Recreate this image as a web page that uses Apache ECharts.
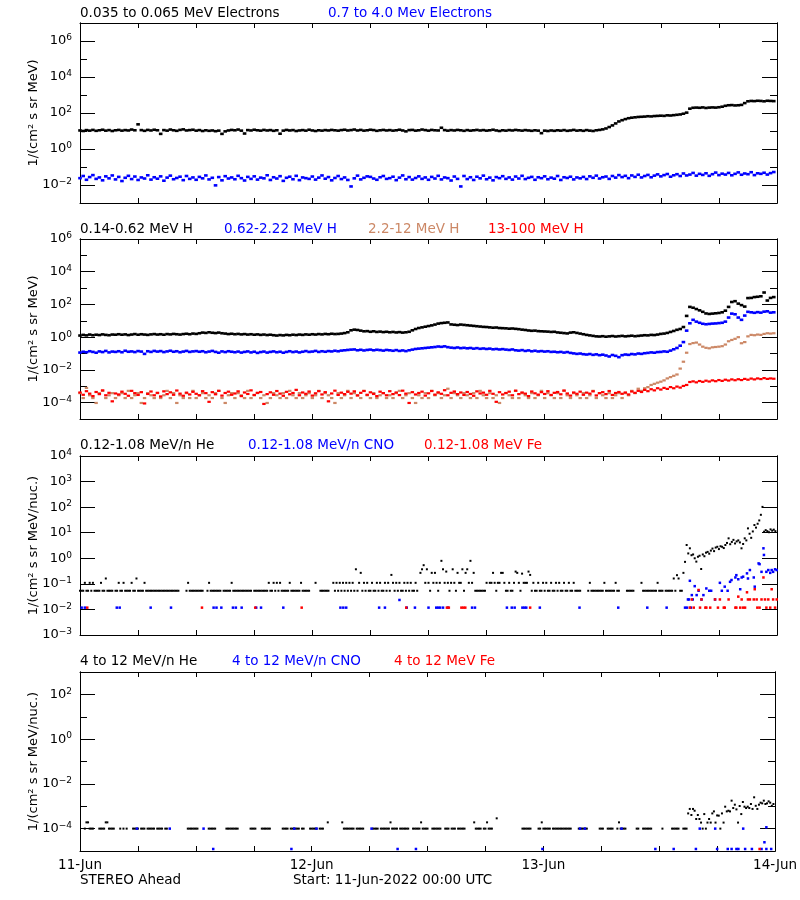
<!DOCTYPE html>
<html><head><meta charset="utf-8">
<script src="https://cdn.jsdelivr.net/npm/echarts@6/dist/echarts.min.js"></script>
<style>html,body{margin:0;padding:0;background:#fff}#c{width:800px;height:900px}</style>
</head><body><div id="c"></div>
<script>
const _ = null;
// Time axis: hours since 11-Jun-2022 00:00 UTC
const dayLabels = ['11-Jun', '12-Jun', '13-Jun', '14-Jun'];

// ---- Panel 1: electrons, log10 flux, 20-min cadence ----
const eLowLog = [
1.03,1.00,1.05,1.02,1.06,1.01,1.04,1.07,1.02,1.05,1.00,1.04,
1.06,1.02,1.05,1.03,1.08,1.04,1.37,1.05,1.01,1.06,1.03,1.07,
1.04,0.84,1.05,1.02,1.08,1.04,1.01,1.06,1.09,1.03,1.05,1.07,
1.02,1.05,1.00,1.04,1.01,1.03,0.99,1.02,0.84,0.98,1.03,1.06,
1.04,1.08,1.02,0.86,1.05,1.03,1.07,1.04,1.02,1.06,1.03,1.05,
1.01,1.04,0.85,1.02,1.06,1.03,1.05,1.00,1.03,1.05,1.02,1.07,
1.03,1.00,1.04,1.02,1.05,1.03,1.06,1.04,1.02,1.05,1.07,1.03,
1.05,1.08,1.03,1.06,1.02,1.04,1.07,1.05,1.01,1.04,1.06,1.03,
1.05,1.02,1.04,1.07,1.03,0.98,1.05,1.06,1.02,1.04,1.08,1.05,
1.02,1.06,1.04,1.03,1.18,1.05,1.02,1.05,1.03,1.06,1.04,1.01,
1.05,1.02,1.04,1.06,1.03,1.05,1.02,1.04,1.07,1.03,1.00,1.04,
1.02,1.05,1.03,1.06,1.04,1.02,1.05,1.03,1.01,1.04,1.02,0.88,
1.02,1.00,1.03,1.01,1.04,1.02,1.05,1.01,1.03,1.06,1.02,1.04,
1.01,1.05,1.02,1.00,1.04,1.06,1.09,1.14,1.22,1.31,1.42,1.53,
1.60,1.66,1.71,1.74,1.76,1.78,1.79,1.80,1.82,1.81,1.83,1.84,
1.85,1.84,1.87,1.86,1.88,1.90,1.92,1.96,2.02,2.24,2.29,2.30,
2.29,2.31,2.28,2.30,2.31,2.30,2.32,2.35,2.40,2.43,2.44,2.42,
2.43,2.45,2.55,2.65,2.67,2.66,2.68,2.67,2.65,2.68,2.67,2.66];
const eHighLog = [
-1.62,-1.50,-1.71,-1.56,-1.45,-1.66,-1.58,-1.74,-1.52,-1.63,-1.47,-1.69,
-1.55,-1.78,-1.60,-1.49,-1.67,-1.53,-1.72,-1.58,-1.64,-1.46,-1.70,-1.57,
-1.65,-1.52,-1.76,-1.59,-1.48,-1.68,-1.61,-1.54,-1.73,-1.50,-1.66,-1.58,
-1.71,-1.55,-1.63,-1.47,-1.69,-1.60,-2.02,-1.56,-1.74,-1.51,-1.64,-1.58,
-1.68,-1.49,-1.62,-1.75,-1.55,-1.66,-1.52,-1.70,-1.59,-1.63,-1.46,-1.72,
-1.57,-1.64,-1.51,-1.77,-1.60,-1.54,-1.68,-1.49,-1.73,-1.58,-1.62,-1.66,
-1.53,-1.70,-1.59,-1.47,-1.65,-1.56,-1.74,-1.61,-1.50,-1.67,-1.58,-1.72,
-2.08,-1.63,-1.48,-1.69,-1.60,-1.52,-1.55,-1.64,-1.71,-1.57,-1.50,-1.66,
-1.62,-1.54,-1.73,-1.59,-1.47,-1.68,-1.56,-1.70,-1.61,-1.52,-1.66,-1.58,
-1.71,-1.55,-1.64,-1.49,-1.69,-1.58,-1.62,-1.75,-1.53,-1.66,-2.08,-1.50,
-1.67,-1.57,-1.72,-1.54,-1.63,-1.48,-1.68,-1.59,-1.74,-1.56,-1.62,-1.51,
-1.66,-1.58,-1.70,-1.53,-1.64,-1.49,-1.67,-1.60,-1.55,-1.71,-1.57,-1.62,
-1.52,-1.68,-1.59,-1.65,-1.50,-1.72,-1.57,-1.61,-1.54,-1.69,-1.58,-1.63,
-1.55,-1.67,-1.52,-1.60,-1.48,-1.64,-1.57,-1.53,-1.66,-1.50,-1.59,-1.45,
-1.56,-1.49,-1.62,-1.47,-1.55,-1.43,-1.58,-1.50,-1.44,-1.57,-1.48,-1.41,
-1.52,-1.45,-1.39,-1.54,-1.46,-1.40,-1.50,-1.36,-1.47,-1.42,-1.33,-1.48,
-1.38,-1.44,-1.35,-1.49,-1.40,-1.31,-1.45,-1.37,-1.42,-1.33,-1.46,-1.38,
-1.30,-1.43,-1.36,-1.40,-1.29,-1.45,-1.35,-1.38,-1.32,-1.42,-1.34,-1.28];

// ---- Panel 2: protons, log10 flux, 20-min cadence ----
const hLowLog = [
0.10,0.14,0.11,0.16,0.12,0.15,0.13,0.17,0.14,0.12,0.16,0.15,
0.18,0.15,0.17,0.13,0.16,0.19,0.15,0.18,0.16,0.14,0.17,0.19,
0.16,0.18,0.15,0.19,0.17,0.20,0.18,0.16,0.19,0.21,0.18,0.22,
0.20,0.24,0.28,0.26,0.30,0.27,0.25,0.28,0.24,0.22,0.19,0.21,
0.18,0.20,0.17,0.19,0.16,0.18,0.15,0.17,0.14,0.16,0.13,0.15,
0.12,0.10,0.13,0.11,0.14,0.12,0.15,0.13,0.16,0.14,0.17,0.15,
0.18,0.16,0.19,0.17,0.20,0.18,0.21,0.19,0.20,0.22,0.25,0.30,
0.42,0.46,0.44,0.40,0.36,0.37,0.33,0.36,0.32,0.34,0.31,0.33,
0.30,0.32,0.29,0.31,0.28,0.30,0.33,0.42,0.50,0.56,0.60,0.64,
0.68,0.72,0.77,0.83,0.86,0.88,0.90,0.78,0.76,0.74,0.77,0.75,
0.73,0.71,0.69,0.67,0.65,0.63,0.62,0.60,0.58,0.59,0.56,0.55,
0.54,0.52,0.53,0.51,0.49,0.46,0.44,0.41,0.39,0.40,0.37,0.36,
0.35,0.34,0.32,0.33,0.29,0.27,0.25,0.23,0.28,0.30,0.26,0.22,
0.18,0.14,0.11,0.08,0.05,0.04,0.06,0.03,0.05,0.07,0.04,0.06,
0.08,0.05,0.07,0.09,0.06,0.08,0.10,0.12,0.11,0.14,0.13,0.16,
0.20,0.22,0.26,0.32,0.38,0.45,0.50,0.62,1.30,1.85,1.80,1.72,
1.64,1.55,1.45,1.42,1.44,1.46,1.48,1.52,1.62,1.85,2.15,2.20,
2.05,1.96,1.87,2.39,2.40,2.45,2.47,2.50,2.73,2.24,2.40,2.45];
const hMidLog = [
-0.94,-0.89,-0.92,-0.86,-0.90,-0.95,-0.87,-0.91,-0.84,-0.93,-0.88,-0.90,
-0.86,-0.92,-0.83,-0.89,-0.87,-0.91,-0.85,-0.88,-1.02,-0.86,-0.90,-0.84,
-0.88,-0.85,-0.91,-0.87,-0.83,-0.89,-0.86,-0.92,-0.88,-0.84,-0.90,-0.87,
-0.85,-0.89,-0.86,-0.92,-0.88,-0.84,-0.90,-0.95,-0.87,-0.91,-0.86,-0.89,
-0.92,-0.88,-0.94,-0.90,-0.87,-0.93,-0.89,-0.96,-0.91,-0.88,-0.94,-0.90,
-0.87,-0.92,-0.89,-0.95,-0.90,-0.86,-0.91,-0.88,-0.93,-0.89,-0.85,-0.90,
-0.88,-0.84,-0.90,-0.86,-0.89,-0.85,-0.87,-0.83,-0.86,-0.82,-0.80,-0.78,
-0.76,-0.75,-0.80,-0.77,-0.81,-0.78,-0.76,-0.80,-0.77,-0.79,-0.82,-0.78,
-0.80,-0.83,-0.79,-0.84,-0.81,-0.85,-0.80,-0.76,-0.72,-0.70,-0.68,-0.66,
-0.64,-0.62,-0.60,-0.57,-0.59,-0.56,-0.61,-0.64,-0.66,-0.63,-0.67,-0.65,
-0.68,-0.66,-0.70,-0.67,-0.71,-0.69,-0.72,-0.70,-0.74,-0.72,-0.75,-0.73,
-0.76,-0.78,-0.75,-0.80,-0.82,-0.79,-0.84,-0.81,-0.86,-0.83,-0.87,-0.85,
-0.88,-0.86,-0.90,-0.89,-0.92,-0.90,-0.94,-0.91,-0.96,-0.99,-1.02,-1.00,
-1.04,-1.06,-1.03,-1.08,-1.05,-1.10,-1.07,-1.12,-1.18,-1.09,-1.14,-1.22,
-1.10,-1.06,-1.08,-1.03,-1.05,-1.00,-1.02,-0.98,-0.96,-0.93,-0.95,-0.91,
-0.90,-0.87,-0.89,-0.82,-0.74,-0.66,-0.52,-0.30,0.40,0.85,1.06,0.95,
0.88,0.82,0.79,0.81,0.83,0.84,0.86,0.88,0.95,1.20,1.44,1.40,
1.20,1.06,1.32,1.55,1.52,1.49,1.53,1.50,1.56,1.58,1.50,1.52];
const hHighLog = [
-3.42,-3.72,-3.10,-3.55,-3.72,-4.02,-3.42,-3.28,-3.72,-3.55,-3.42,-3.72,
-3.55,-3.42,-3.72,-3.28,-3.72,-3.55,-3.42,-4.02,-3.72,-3.42,-3.55,-3.72,
-3.42,-3.72,-3.55,-3.28,-3.72,-3.42,-4.02,-3.55,-3.72,-3.42,-3.72,-3.28,
-3.72,-3.55,-3.42,-3.72,-3.55,-3.72,-3.42,-3.28,-3.72,-4.02,-3.55,-3.42,
-3.72,-3.42,-3.55,-3.72,-3.28,-3.72,-3.55,-3.42,-3.72,-3.55,-4.02,-3.72,
-3.42,-3.55,-3.72,-3.42,-3.72,-3.28,-3.55,-3.72,-3.42,-3.72,-3.55,-3.42,
-3.72,-3.55,-3.28,-3.72,-3.42,-3.55,-3.72,-4.02,-3.42,-3.72,-3.55,-3.28,
-3.72,-3.42,-3.55,-3.72,-3.28,-3.55,-3.72,-3.42,-3.72,-3.55,-3.42,-3.72,
-3.55,-3.72,-3.42,-3.28,-3.72,-3.55,-3.42,-3.72,-4.02,-3.55,-3.72,-3.42,
-3.72,-3.28,-3.55,-3.42,-3.72,-3.55,-3.15,-3.72,-3.42,-3.55,-3.72,-3.42,
-3.55,-3.72,-3.42,-3.72,-3.28,-3.55,-3.72,-3.42,-3.72,-3.55,-4.02,-3.72,
-3.42,-3.55,-3.72,-3.28,-3.72,-3.42,-3.55,-3.72,-3.42,-3.72,-3.55,-3.28,
-3.72,-3.42,-3.55,-3.72,-3.42,-3.72,-3.28,-3.55,-3.72,-3.42,-3.55,-3.72,
-3.42,-3.72,-3.55,-3.28,-3.72,-3.42,-3.55,-3.72,-3.42,-3.72,-3.55,-3.42,
-3.72,-3.42,-3.55,-3.28,-3.42,-3.15,-3.28,-3.12,-3.05,-2.92,-2.85,-2.78,
-2.72,-2.64,-2.52,-2.44,-2.36,-2.28,-1.92,-1.50,-0.95,-0.42,-0.36,-0.33,
-0.45,-0.58,-0.65,-0.68,-0.62,-0.60,-0.58,-0.55,-0.45,-0.25,-0.17,-0.10,
0.00,-0.37,-0.30,0.05,0.14,0.12,0.16,0.14,0.20,0.24,0.22,0.24];
const hTopLog = [
-3.38,-3.52,-3.30,-3.45,-3.60,-3.35,-3.48,-3.25,-3.55,-3.40,-3.92,-3.44,
-3.50,-3.33,-3.46,-3.58,-3.28,-3.42,-3.53,-3.36,-4.05,-3.47,-3.32,-3.55,
-3.40,-3.62,-3.31,-3.48,-3.37,-3.52,-3.26,-3.45,-3.58,-3.39,-3.50,-3.34,
-3.46,-3.55,-3.30,-3.42,-3.95,-3.36,-3.49,-3.28,-3.57,-3.41,-3.33,-3.52,
-3.44,-3.31,-3.60,-3.38,-3.47,-3.25,-3.53,-3.40,-3.35,-4.08,-3.48,-3.37,
-3.52,-3.29,-3.45,-3.58,-3.34,-3.49,-3.41,-3.22,-3.55,-3.38,-3.46,-3.32,
-3.57,-3.43,-3.30,-3.50,-3.36,-3.92,-3.44,-3.27,-3.53,-3.39,-3.48,-3.34,
-3.45,-3.31,-3.56,-3.40,-3.29,-3.52,-3.37,-3.47,-3.60,-3.33,-3.42,-3.55,
-3.30,-3.48,-3.38,-3.54,-3.27,-3.45,-4.02,-3.36,-3.50,-3.41,-3.33,-3.57,
-3.43,-3.29,-3.51,-3.37,-3.46,-3.24,-3.55,-3.40,-3.32,-3.48,-3.38,-3.53,
-3.35,-3.47,-3.58,-3.31,-3.44,-3.39,-3.52,-3.28,-3.46,-3.95,-3.36,-3.50,
-3.41,-3.33,-3.55,-3.27,-3.48,-3.38,-3.45,-3.60,-3.32,-3.43,-3.51,-3.36,
-3.47,-3.30,-3.53,-3.40,-3.35,-3.49,-3.26,-3.44,-3.57,-3.38,-3.46,-3.33,
-3.52,-3.39,-3.45,-3.31,-3.56,-3.42,-3.36,-3.48,-3.29,-3.53,-3.41,-3.35,
-3.46,-3.38,-3.50,-3.32,-3.40,-3.28,-3.35,-3.22,-3.30,-3.18,-3.25,-3.12,
-3.20,-3.10,-3.16,-3.05,-3.12,-3.02,-3.08,-2.98,-2.92,-2.74,-2.70,-2.76,
-2.68,-2.73,-2.66,-2.71,-2.64,-2.69,-2.62,-2.67,-2.60,-2.65,-2.58,-2.63,
-2.57,-2.62,-2.55,-2.60,-2.53,-2.58,-2.52,-2.56,-2.50,-2.55,-2.52,-2.54];

// ---- Panel 3: 0.12-1.08 MeV/n ions, log10 flux ----
// He at 10-min cadence (null = no counts)
const heLowLog = [
-1.27,-1.27,-1.27,-0.96,-1.27,-1.27,-0.96,-1.27,-0.96,-1.27,-1.27,-1.27,-1.27,-0.96,-1.27,-1.27,-0.79,-1.27,-1.27,-1.27,-1.27,_,-1.27,-1.27,
-0.96,-1.27,-1.27,-0.96,-1.27,-1.27,-1.27,-1.27,-0.96,-1.27,-1.27,-0.79,-1.27,-1.27,-1.27,-1.27,-0.96,-1.27,-1.27,-1.27,-1.27,-1.27,-1.27,-1.27,
-1.27,-1.27,-1.27,-1.27,-1.27,-1.27,-1.27,-1.27,-1.27,-1.27,-1.27,-1.27,-1.27,-1.27,_,_,_,_,-1.27,-0.96,-1.27,-1.27,-1.27,-1.27,
-1.27,-1.27,-1.27,-1.27,-1.27,_,_,-1.27,-0.96,-1.27,-1.27,-1.27,-1.27,-1.27,-1.27,-1.27,_,-1.27,-1.27,-1.27,-1.27,-1.27,-0.96,-1.27,
-1.27,-1.27,-1.27,-1.27,-1.27,-1.27,-1.27,-1.27,-1.27,-1.27,-1.27,_,-1.27,-1.27,-1.27,-1.27,-1.27,-1.27,-1.27,-1.27,-1.27,-0.96,-1.27,-1.27,
-0.96,-1.27,-0.96,-1.27,-0.96,-1.27,-1.27,-1.27,-1.27,-1.27,-0.96,-1.27,-1.27,-1.27,-1.27,-1.27,-1.27,-0.96,-1.27,-1.27,-1.27,-1.27,-1.27,_,
_,_,-0.96,_,_,-1.27,-1.27,-1.27,-1.27,-1.27,-1.27,_,_,-0.96,-1.27,-0.96,-1.27,-0.96,-1.27,-0.96,-1.27,-0.96,-1.27,-0.96,
-1.27,-0.96,-1.27,-0.43,-1.27,-0.96,-0.57,-1.27,-0.96,-1.27,-0.96,-1.27,-1.27,-0.96,-1.27,-1.27,-0.96,-1.27,-0.96,-1.27,-1.27,-0.96,-1.27,-0.96,
-1.27,-0.65,-0.96,-1.27,-0.96,-1.27,-0.96,-1.27,-1.27,-0.96,-1.27,-0.96,-1.27,-0.96,-1.27,-1.27,-0.96,-1.27,_,-0.57,-0.43,-0.27,-0.96,-0.43,
-0.96,-1.27,-0.57,-0.96,-0.57,-0.96,-1.27,-0.96,-0.10,-0.43,-0.96,-0.52,-0.96,-1.27,-0.96,-0.43,-0.96,-1.27,-0.57,-0.96,-0.96,-0.43,-1.27,-0.57,
-0.43,-0.96,-0.10,-0.96,-0.57,-1.27,-1.27,-1.27,-1.27,-1.27,-1.27,-1.27,-0.96,_,-0.96,-0.96,-0.57,-0.96,-1.27,-0.96,-0.96,-0.57,-0.57,-0.96,
-1.27,-1.27,-0.96,-1.27,-1.27,-0.96,-0.52,-0.57,-0.96,-1.27,-0.60,-0.96,-0.96,-0.96,-0.52,-0.65,-1.27,-0.96,-1.27,-1.27,-0.96,-1.27,-1.27,-0.96,
-1.27,-0.96,-1.27,-1.27,-0.96,-1.27,-1.27,-0.96,-1.27,-0.96,-1.27,-1.27,-0.96,-1.27,-1.27,-0.96,-1.27,-1.27,-0.96,-1.27,-1.27,-1.27,-1.27,_,
_,_,_,-1.27,-0.96,-1.27,-1.27,-1.27,-1.27,-1.27,-1.27,-1.27,-1.27,-0.96,-1.27,-1.27,-1.27,-1.27,-1.27,-1.27,-0.96,-1.27,-1.27,_,
_,_,_,-1.27,-1.27,-1.27,-1.27,-1.27,_,_,_,_,-0.96,-1.27,-1.27,-1.27,-1.27,-1.27,-1.27,-1.27,-1.27,-1.27,-0.96,-1.27,
-1.27,-1.27,_,-1.27,-1.27,-1.27,-1.27,-1.27,-0.79,-1.27,-0.66,-0.79,-1.27,-1.27,-0.57,-0.14,0.52,0.19,0.39,0.12,0.15,0.00,-0.13,0.06,
0.10,-0.42,0.15,0.08,0.22,0.25,0.18,0.30,0.38,0.28,0.42,0.45,0.36,0.47,0.45,0.40,0.52,0.60,0.78,0.55,0.64,0.72,0.58,0.66,
0.70,0.62,0.39,0.56,0.78,0.70,1.17,0.96,0.80,1.05,1.30,1.20,1.35,1.48,1.70,2.01,1.04,1.10,1.06,1.02,1.13,1.08,1.12,1.06];
// CNO and Fe: [hour, log10 flux]
const cnoLowPts = [
[0.17,-1.93],[0.5,-1.93],[3.8,-1.93],[4.1,-1.93],[7.3,-1.93],[9.4,-1.93],[13.8,-1.93],[14.1,-1.93],[14.6,-1.93],
[15.8,-1.93],[16.1,-1.93],[16.7,-1.93],[18.2,-1.93],[18.7,-1.93],[21.0,-1.93],[26.9,-1.93],[27.2,-1.93],[27.5,-1.93],
[30.9,-1.93],[31.5,-1.93],[33.0,-1.63],[33.75,-1.93],[34.6,-1.93],[36.0,-1.93],[36.8,-1.93],[37.0,-1.93],[37.2,-1.93],
[37.5,-1.93],[38.0,-1.93],[40.5,-1.93],[40.8,-1.93],[44.1,-1.93],[44.6,-1.93],[44.9,-1.93],[45.7,-1.93],[45.9,-1.93],
[46.1,-1.93],[47.5,-1.93],[51.6,-1.93],[55.6,-1.93],[58.6,-1.93],[60.6,-1.93],[62.5,-1.93],[62.7,-1.93],
[62.8,-1.61],[62.9,-1.61],[63.0,-0.88],[63.1,-1.93],[63.2,-1.44],[63.3,-1.61],[63.5,-1.09],[63.7,-1.44],[63.9,-1.27],
[64.2,-1.61],[64.4,-1.44],[64.7,-1.18],[65.0,-1.27],[65.2,-1.27],[65.6,-1.61],[66.1,-0.96],[66.3,-1.27],[66.6,-1.11],
[66.9,-1.27],[67.15,-0.92],[67.3,-0.85],[67.7,-0.75],[67.8,-0.66],[68.0,-0.82],[68.2,-1.21],[68.35,-0.75],[68.5,-0.72],
[68.9,-0.59],[69.0,-0.79],[69.2,-0.46],[69.6,-0.75],[69.7,-1.11],[70.1,-0.20],[70.2,-0.23],[70.4,-0.53],[70.6,0.39],
[70.65,0.13],[70.9,-0.53],[71.1,-0.46],[71.3,-0.57],[71.45,-0.46],[71.6,-0.53],[71.8,-0.43],[71.97,-0.46]];
const feLowPts = [
[0.75,-1.93],[12.6,-1.93],[18.1,-1.93],[22.9,-1.93],[33.7,-1.93],[37.9,-1.93],[38.1,-1.93],[39.4,-1.93],[39.6,-1.93],
[39.8,-1.93],[46.5,-1.93],[63.0,-1.93],[63.2,-1.61],[63.4,-1.93],[63.9,-1.24],[64.05,-1.93],[64.2,-1.61],[64.6,-1.93],
[64.7,-1.93],[65.1,-1.93],[65.6,-1.61],[65.9,-1.93],[66.1,-1.61],[66.5,-1.93],[66.6,-1.93],[67.0,-1.61],[67.7,-1.93],
[67.8,-1.93],[68.0,-1.50],[68.2,-1.93],[68.35,-1.61],[68.5,-1.93],[68.7,-1.93],[68.9,-1.33],[69.0,-1.61],[69.2,-1.61],
[69.6,-1.61],[69.7,-1.21],[69.9,-1.61],[69.97,-1.93],[70.2,-1.93],[70.4,-1.61],[70.6,-0.75],[70.76,-1.61],[70.9,-1.93],
[71.1,-1.61],[71.3,-1.93],[71.45,-1.21],[71.6,-1.61],[71.8,-1.93],[71.97,-1.61]];

// ---- Panel 4: 4-12 MeV/n ions, log10 flux ----
// He at 10-min cadence
const heHighLog = [
_,_,_,-4.00,-3.72,-3.72,-4.00,-4.00,-4.00,_,_,_,-4.00,-4.00,-4.00,-4.00,-3.72,-3.72,-4.00,-4.00,-4.00,-4.00,_,_,
_,-4.00,_,-4.00,_,-4.00,_,_,_,-4.00,-4.00,-4.00,-4.00,_,-4.00,-4.00,-4.00,_,-4.00,-4.00,-4.00,-4.00,-4.00,_,
-4.00,-4.00,-4.00,-4.00,_,-4.00,-4.00,_,_,_,_,_,_,_,_,_,_,_,_,-4.00,-4.00,-4.00,-4.00,-4.00,
-4.00,-4.00,_,_,_,_,_,_,-4.00,-4.00,-4.00,-4.00,-4.00,_,_,_,_,_,_,-4.00,-4.00,-4.00,-4.00,-4.00,
-4.00,-4.00,-4.00,_,_,_,_,_,_,_,-4.00,-4.00,-4.00,-4.00,_,_,_,-4.00,-4.00,-4.00,-4.00,-4.00,-4.00,_,
_,_,_,_,_,_,-4.00,-4.00,-4.00,-4.00,_,-4.00,-4.00,-4.00,-4.00,-4.00,-4.00,_,-4.00,-4.00,_,_,_,-4.00,
-4.00,-4.00,-4.00,-4.00,_,-4.00,-4.00,-4.00,_,_,-3.72,_,_,_,_,_,_,_,_,-3.72,-4.00,-4.00,-4.00,-4.00,
-4.00,-4.00,-4.00,_,-4.00,-4.00,-4.00,-4.00,-4.00,_,_,_,_,_,-4.00,-4.00,-4.00,-4.00,_,-4.00,-4.00,-4.00,-4.00,-4.00,
-4.00,-3.72,-4.00,-4.00,-4.00,-4.00,_,-4.00,-4.00,-4.00,-4.00,-4.00,-4.00,_,_,-4.00,-4.00,-4.00,-4.00,-4.00,-3.72,-4.00,-4.00,-4.00,
-4.00,_,_,-4.00,-4.00,-4.00,-4.00,-4.00,-4.00,_,_,-4.00,-4.00,-4.00,_,-4.00,-4.00,-4.00,_,-4.00,-4.00,-4.00,-4.00,-4.00,
_,_,_,_,_,-3.72,-4.00,-4.00,-4.00,-4.00,_,-4.00,-4.00,-3.72,-4.00,-4.00,-4.00,_,_,-3.54,_,_,_,_,
_,_,_,_,_,_,_,_,_,_,_,-4.00,-4.00,-4.00,-4.00,-4.00,-4.00,_,_,_,_,-4.00,-4.00,-3.72,
-4.00,-4.00,-4.00,-4.00,-4.00,_,-4.00,-4.00,-4.00,-4.00,-4.00,-4.00,-4.00,-4.00,-4.00,-4.00,-4.00,-4.00,_,_,_,_,-4.00,-4.00,
-4.00,-4.00,-4.00,-4.00,_,_,_,_,_,_,_,-4.00,-4.00,-4.00,_,_,-4.00,-4.00,-4.00,-4.00,_,_,-4.00,-3.72,
-4.00,-4.00,-4.00,-4.00,_,_,_,_,_,_,-4.00,-4.00,_,_,-4.00,-4.00,-4.00,-4.00,-4.00,-4.00,_,_,_,_,
_,_,-4.00,_,_,_,_,_,-4.00,-4.00,-4.00,-4.00,-4.00,_,_,-4.00,-4.00,-4.00,-3.32,-3.12,-3.39,-3.12,-3.20,-3.57,
-3.39,-3.57,-3.73,-4.00,-3.35,-4.00,-3.73,-3.57,-3.73,-3.32,-3.23,-3.73,-3.41,-3.42,-4.00,-3.32,-3.73,-3.02,-3.23,-3.20,-3.23,-2.75,-3.08,-2.93,
-3.14,-3.73,-2.99,-3.35,-2.81,-3.02,-3.08,-3.02,-3.08,-2.90,-3.12,-2.60,-2.98,-3.12,-2.93,-2.84,-2.87,-2.75,-2.90,-2.87,-2.78,-2.84,-2.98,-2.90];
const cnoHighPts = [
[5.9,-4.0],[9.3,-4.0],[12.8,-4.0],[22.2,-4.0],[24.5,-4.0],[30.2,-4.0],[51.8,-4.0],[52.3,-4.0],[56.1,-4.0],
[64.2,-4.0],[65.8,-4.0],[68.7,-4.0],[71.1,-3.94],
[13.8,-4.91],[21.9,-4.91],[32.9,-4.91],[34.8,-4.91],[47.9,-4.91],[59.6,-4.91],[61.5,-4.91],[63.8,-4.91],[66.0,-4.91],
[67.1,-4.91],[67.5,-4.91],[68.0,-4.91],[68.2,-4.91],[68.9,-4.91],[69.6,-4.91],[70.6,-4.91],[70.9,-4.61],[71.1,-4.91],[71.6,-4.91]];
const feHighPts = [[70.4,-4.91]];

// ---------------------------------------------------------------
const FONT = 'DejaVu Sans';
const BLUE = '#0000ff', RED = '#ff0000', BROWN = 'rgb(204,136,102)', BLACK = '#000000';

function cadence(arr, stepH) {
  const out = [];
  arr.forEach((v, i) => { if (v !== null) out.push([i * stepH, v]); });
  return out;
}

const panels = [
  { top: 23, height: 180, min: -3, max: 7, major: [-2, 0, 2, 4, 6], minor: [-3, -1, 1, 3, 5, 7],
    name: '1/(cm² s sr MeV)',
    titles: [['0.035 to 0.065 MeV Electrons', 80, BLACK], ['0.7 to 4.0 Mev Electrons', 328, BLUE]],
    series: [[cadence(eLowLog, 1/3), BLACK, [3.6, 2.6]], [cadence(eHighLog, 1/3), BLUE, [3.6, 2.6]]] },
  { top: 239, height: 180, min: -5, max: 6, major: [-4, -2, 0, 2, 4, 6], minor: [-5, -3, -1, 1, 3, 5],
    name: '1/(cm² s sr MeV)',
    titles: [['0.14-0.62 MeV H', 80, BLACK], ['0.62-2.22 MeV H', 224, BLUE], ['2.2-12 MeV H', 368, BROWN], ['13-100 MeV H', 488, RED]],
    series: [[cadence(hLowLog, 1/3), BLACK, [3.6, 2.6]], [cadence(hMidLog, 1/3), BLUE, [3.6, 2.6]],
             [cadence(hHighLog, 1/3), BROWN, [3.4, 2.2]], [cadence(hTopLog, 1/3), RED, [3.4, 2.2]]] },
  { top: 456, height: 179, min: -3, max: 4, major: [-3, -2, -1, 0, 1, 2, 3, 4], minor: [],
    name: '1/(cm² s sr MeV/nuc.)',
    titles: [['0.12-1.08 MeV/n He', 80, BLACK], ['0.12-1.08 MeV/n CNO', 248, BLUE], ['0.12-1.08 MeV Fe', 424, RED]],
    series: [[cadence(heLowLog, 1/6), BLACK, [2, 2]], [cnoLowPts, BLUE, [2.5, 2.5]], [feLowPts, RED, [2.5, 2.5]]] },
  { top: 672, height: 179, min: -5, max: 3, major: [-4, -2, 0, 2], minor: [-5, -3, -1, 1, 3],
    name: '1/(cm² s sr MeV/nuc.)',
    titles: [['4 to 12 MeV/n He', 80, BLACK], ['4 to 12 MeV/n CNO', 232, BLUE], ['4 to 12 MeV Fe', 394, RED]],
    series: [[cadence(heHighLog, 1/6), BLACK, [2, 2]], [cnoHighPts, BLUE, [2.5, 2.5]], [feHighPts, RED, [2.5, 2.5]]] }
];

const titleTops = [6, 222, 438, 654];
const grids = [], xAxes = [], yAxes = [], series = [], titles = [];
const axisLine = { show: true, onZero: false, lineStyle: { color: '#000', width: 1 } };
const tickStyle = { color: '#000', width: 1 };

function expLabel(v) {
  const e = v < 0 ? '\u2212' + (-v) : String(v);
  return '{b|10}{s|' + e + '}';
}

panels.forEach((p, k) => {
  grids.push({ left: 80, width: 697, top: p.top, height: p.height, containLabel: false });
  xAxes.push({
    type: 'value', gridIndex: k, min: 0, max: 72, interval: 6, position: 'bottom',
    axisLine, splitLine: { show: false },
    axisTick: { show: true, inside: true, length: 5, lineStyle: tickStyle },
    axisLabel: k === 3 ? {
      show: true, margin: 7, color: '#000', fontFamily: FONT, fontSize: 13.5,
      showMinLabel: true, showMaxLabel: true,
      formatter: v => (v % 24 === 0 ? dayLabels[v / 24] : '')
    } : { show: false }
  });
  xAxes.push({
    type: 'value', gridIndex: k, min: 0, max: 72, interval: 6, position: 'top',
    axisLine, splitLine: { show: false },
    axisTick: { show: true, inside: true, length: 5, lineStyle: tickStyle },
    axisLabel: { show: false }
  });
  const yBase = { type: 'value', gridIndex: k, min: p.min, max: p.max, interval: 1, axisLine, splitLine: { show: false } };
  yAxes.push(Object.assign({}, yBase, {
    position: 'left', name: p.name, nameLocation: 'middle', nameGap: 40, nameMoveOverlap: false,
    nameTextStyle: { fontFamily: FONT, fontSize: 13, color: '#000' },
    axisTick: { show: true, inside: true, length: 15, customValues: p.major, lineStyle: tickStyle },
    axisLabel: {
      show: true, customValues: p.major, margin: 8, formatter: expLabel,
      rich: {
        b: { fontFamily: FONT, fontSize: 13, color: '#000', lineHeight: 15 },
        s: { fontFamily: FONT, fontSize: 9, color: '#000', lineHeight: 10, verticalAlign: 'top' }
      }
    }
  }));
  yAxes.push(Object.assign({}, yBase, {
    position: 'left',
    axisTick: { show: p.minor.length > 0, inside: true, length: 7, customValues: p.minor.length ? p.minor : [p.min], lineStyle: tickStyle },
    axisLabel: { show: false }
  }));
  yAxes.push(Object.assign({}, yBase, {
    position: 'right',
    axisTick: { show: true, inside: true, length: 15, customValues: p.major, lineStyle: tickStyle },
    axisLabel: { show: false }
  }));
  yAxes.push(Object.assign({}, yBase, {
    position: 'right',
    axisTick: { show: p.minor.length > 0, inside: true, length: 7, customValues: p.minor.length ? p.minor : [p.min], lineStyle: tickStyle },
    axisLabel: { show: false }
  }));
  p.titles.forEach(t => titles.push({
    text: t[0], left: t[1], top: titleTops[k], padding: 0,
    textStyle: { fontFamily: FONT, fontSize: 13.5, fontWeight: 'normal', color: t[2] }
  }));
  p.series.forEach(s => series.push({
    type: 'scatter', xAxisIndex: 2 * k, yAxisIndex: 4 * k, data: s[0],
    symbol: 'rect', symbolSize: s[2], itemStyle: { color: s[1], opacity: 1 },
    silent: true, animation: false
  }));
});

titles.push({ text: 'STEREO Ahead', left: 80, top: 873, padding: 0,
  textStyle: { fontFamily: FONT, fontSize: 13.5, fontWeight: 'normal', color: '#000' } });
titles.push({ text: 'Start: 11-Jun-2022 00:00 UTC', left: 293, top: 873, padding: 0,
  textStyle: { fontFamily: FONT, fontSize: 13.5, fontWeight: 'normal', color: '#000' } });

const chart = echarts.init(document.getElementById('c'), null, { renderer: 'canvas', width: 800, height: 900 });
chart.setOption({
  backgroundColor: '#ffffff',
  animation: false,
  title: titles,
  grid: grids,
  xAxis: xAxes,
  yAxis: yAxes,
  series: series
});
</script>
</body></html>
